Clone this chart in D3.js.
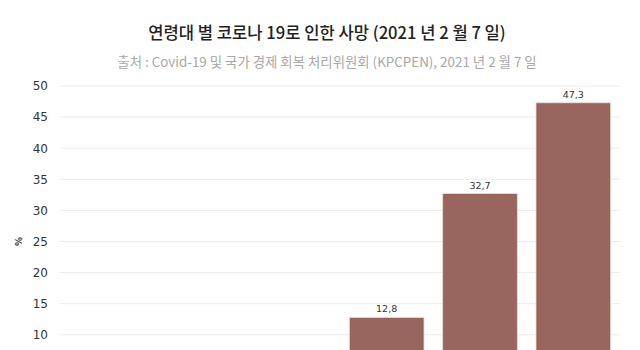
<!DOCTYPE html>
<html>
<head>
<meta charset="utf-8">
<script src="https://cdn.jsdelivr.net/npm/d3@7"></script>
<style>
  body { margin: 0; overflow: hidden; background: #fff; }
  #chart { width: 640px; height: 350px; overflow: hidden; }
</style>
</head>
<body>
<div id="chart"></div>
<script>
// the chart runs past the bottom of the frame: the 0 line and the age labels are cropped
const ageGroups = ["0-39", "40-49", "50-59", "60-69", "70-79", "80+"];
const deathShare = [0.3, 1.4, 5.5, 12.8, 32.7, 47.3];
const yTicks = [0, 5, 10, 15, 20, 25, 30, 35, 40, 45, 50];
const titleText = "연령대 별 코로나 19로 인한 사망 (2021 년 2 월 7 일)";
const subtitleText = "출처 : Covid-19 및 국가 경제 회복 처리위원회 (KPCPEN), 2021 년 2 월 7 일";

const margin = {top: 86, right: 20, bottom: 40, left: 60};
const width = 640 - margin.left - margin.right;
const height = 311;

const svg = d3.select("#chart")
    .append("svg")
    .attr("width", 640)
    .attr("height", height + margin.top + margin.bottom);

svg.append("text")
    .attr("x", 327)
    .attr("y", 39)
    .attr("text-anchor", "middle")
    .style("font-family", "'Noto Sans CJK KR', 'Noto Sans', sans-serif")
    .style("font-size", "16.6px")
    .style("font-weight", "500")
    .style("fill", "#222")
    .text(titleText);

svg.append("text")
    .attr("x", 327)
    .attr("y", 67)
    .attr("text-anchor", "middle")
    .style("font-family", "'Noto Sans CJK KR', 'Noto Sans', sans-serif")
    .style("font-size", "13.4px")
    .style("fill", "#a8a8a8")
    .text(subtitleText);

const g = svg.append("g")
    .attr("transform", `translate(${margin.left},${margin.top})`);

const x = d3.scaleBand()
    .domain(ageGroups)
    .range([0, width])
    .paddingInner(0.2)
    .paddingOuter(0.1);

const y = d3.scaleLinear()
    .domain([0, 50])
    .range([height, 0]);

// gridlines
g.append("g")
    .selectAll("line")
    .data(yTicks)
    .join("line")
    .attr("x1", 0)
    .attr("x2", width)
    .attr("y1", d => y(d))
    .attr("y2", d => y(d))
    .attr("stroke", "#ececec")
    .attr("stroke-width", 1);

const yAxis = g.append("g")
    .call(d3.axisLeft(y).tickValues(yTicks).tickSize(0).tickPadding(12));
yAxis.select(".domain").remove();
yAxis.selectAll("text")
    .style("font-family", "'DejaVu Sans', Verdana, sans-serif")
    .style("font-size", "12px")
    .style("fill", "#333");

g.append("text")
    .attr("transform", "rotate(-90)")
    .attr("x", -y(25))
    .attr("y", -38)
    .attr("text-anchor", "middle")
    .style("font-family", "'DejaVu Sans', sans-serif")
    .style("font-size", "9px")
    .style("font-weight", "bold")
    .style("fill", "#333")
    .text("%");

const xAxis = g.append("g")
    .attr("transform", `translate(0,${height})`)
    .call(d3.axisBottom(x).tickSize(0).tickPadding(8));
xAxis.select(".domain").remove();
xAxis.selectAll("text")
    .style("font-family", "'DejaVu Sans', sans-serif")
    .style("font-size", "12px")
    .style("fill", "#333");

g.selectAll(".bar")
    .data(deathShare)
    .join("rect")
    .attr("class", "bar")
    .attr("x", (d, i) => x(ageGroups[i]))
    .attr("y", d => y(d))
    .attr("width", x.bandwidth())
    .attr("height", d => height - y(d))
    .attr("fill", "#98655f")
    .attr("stroke", "#e8dcdb")
    .attr("stroke-width", 0.8);

g.selectAll(".value")
    .data(deathShare)
    .join("text")
    .attr("class", "value")
    .attr("x", (d, i) => x(ageGroups[i]) + x.bandwidth() / 2)
    .attr("y", d => y(d) - 5)
    .attr("text-anchor", "middle")
    .style("font-family", "'DejaVu Sans', sans-serif")
    .style("font-size", "9.5px")
    .style("fill", "#333")
    .text(d => d.toFixed(1).replace(".", ","));
</script>
</body>
</html>
